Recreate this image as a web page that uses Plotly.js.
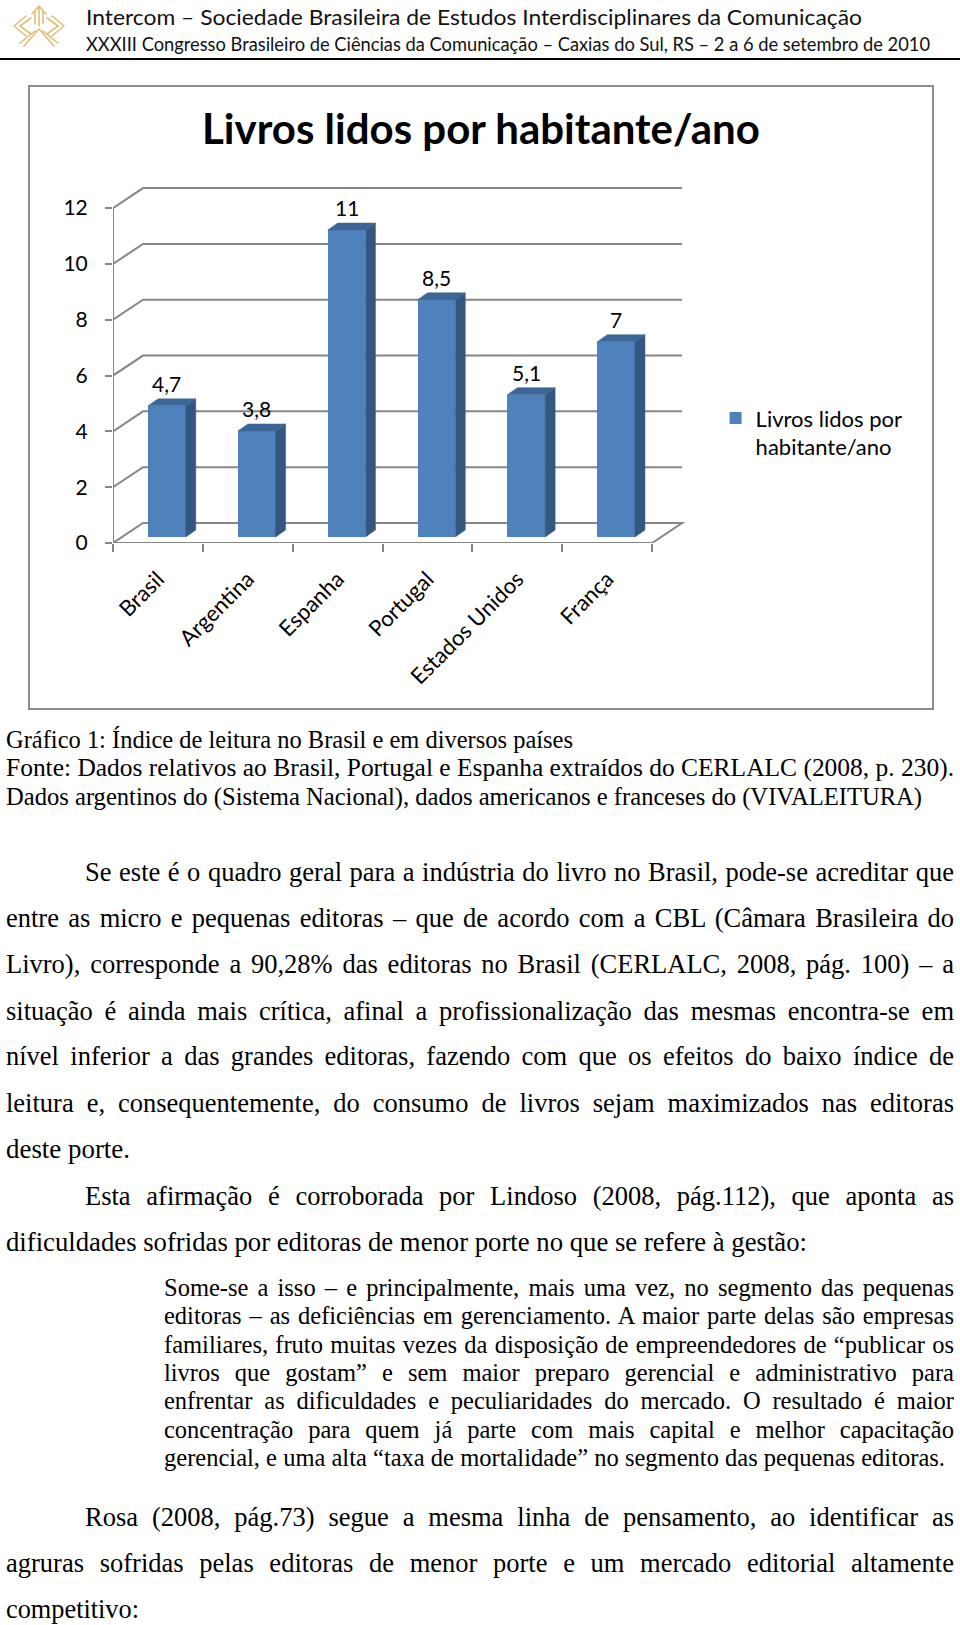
<!DOCTYPE html>
<html><head><meta charset="utf-8">
<script src="https://cdn.plot.ly/plotly-3.0.1.min.js"></script>
<style>
html,body{margin:0;padding:0;background:#fff;}
body{width:960px;height:1625px;position:relative;overflow:hidden;}
.ln{position:absolute;white-space:pre;line-height:1;font-family:"Liberation Serif","Times New Roman",serif;color:#000;transform-origin:0 0;}
.hd{position:absolute;white-space:pre;line-height:1;font-family:Lato,"Open Sans",sans-serif;color:#111;transform-origin:0 0;}
#rule{position:absolute;left:0;top:58px;width:960px;height:2px;background:#000;}
#chart{position:absolute;left:28px;top:85px;width:902px;height:621px;border:2px solid #8c8c8c;}
#logo{position:absolute;left:6px;top:2px;}
</style></head><body>
<svg id="logo" width="70" height="50" viewBox="0 0 70 50">
  <g fill="none" stroke="#E3BD78" stroke-width="1.6" stroke-linejoin="round" stroke-linecap="round">
    <path d="M33,6 L33,24 M29,9 L29,22 M37,9 L37,22 M26,12 L33,4 L40,12"/>
    <path d="M20,14 L8,24 L20,34 M25,16 L14,24 L25,32"/>
    <path d="M46,14 L58,24 L46,34 M41,16 L52,24 L41,32"/>
    <path d="M33,27 L18,44 M33,27 L48,44 M29,29 L14,41 M37,29 L52,41"/>
  </g>
</svg>
<div id="rule"></div>
<div id="chart"></div>
<script>
// ---------------- chart data ----------------
const categories = ['Brasil', 'Argentina', 'Espanha', 'Portugal', 'Estados Unidos', 'França'];
const values = [4.7, 3.8, 11, 8.5, 5.1, 7];
const valueLabels = ['4,7', '3,8', '11', '8,5', '5,1', '7'];
const yTicks = [0, 2, 4, 6, 8, 10, 12];
const seriesName = 'Livros lidos por<br>habitante/ano';
const chartTitle = 'Livros lidos por habitante/ano';

// ---------------- 3D look (styles, data units) ----------------
const BAR_W = 0.42, BAR_SHIFT = 0.1, BASE = 0.215, BD_X = 0.111, BD_Y = 0.25;
const WALL_X = 0.334, WALL_Y = 0.717;
const GRID = '#868686';
const FONT = 'Lato, "Open Sans", sans-serif';

const idx = categories.map((c, i) => i);
const xMin = -0.5, xMax = categories.length - 0.5;
const boundaries = idx.map(i => i - 0.5).concat([xMax]);
const yTop = yTicks[yTicks.length - 1];

const shapes = [];
// floor
shapes.push({type: 'path', layer: 'below', xref: 'x', yref: 'y',
  path: `M${xMin},0 L${xMax},0 L${xMax + WALL_X},${WALL_Y} L${xMin + WALL_X},${WALL_Y} Z`,
  fillcolor: '#ffffff', line: {color: GRID, width: 2}});
// wall gridlines
yTicks.forEach(v => {
  if (v === 0) return;
  shapes.push({type: 'path', layer: 'below', xref: 'x', yref: 'y',
    path: `M${xMin},${v} L${xMin + WALL_X},${v + WALL_Y} L${xMax + WALL_X},${v + WALL_Y}`,
    line: {color: GRID, width: 2}});
});
// front value axis line
shapes.push({type: 'line', layer: 'below', xref: 'x', yref: 'y', x0: xMin, x1: xMin, y0: 0, y1: yTop,
  line: {color: GRID, width: 2}});

const traces = [];
traces.push({type: 'bar', x: idx, y: values, base: BASE, width: BAR_W, offset: BAR_SHIFT - BAR_W / 2,
  marker: {color: '#4F81BD', line: {width: 0}}, name: seriesName, hoverinfo: 'skip', showlegend: true});
values.forEach((v, i) => {
  const xl = i + BAR_SHIFT - BAR_W / 2, xr = xl + BAR_W, b = BASE, t = v + BASE;
  traces.push({type: 'scatter', mode: 'lines', fill: 'toself', fillcolor: '#34577F',
    line: {color: '#34577F', width: 0.5}, showlegend: false, hoverinfo: 'skip',
    x: [xr, xr + BD_X, xr + BD_X, xr, xr], y: [b, b + BD_Y, t + BD_Y, t, b]});
  traces.push({type: 'scatter', mode: 'lines', fill: 'toself', fillcolor: '#3D6697',
    line: {color: '#3D6697', width: 0.5}, showlegend: false, hoverinfo: 'skip',
    x: [xl, xr, xr + BD_X, xl + BD_X, xl], y: [t, t, t + BD_Y, t + BD_Y, t]});
});

const annotations = values.map((v, i) => ({
  xref: 'x', yref: 'y', x: i + BAR_SHIFT, y: v + BASE, text: valueLabels[i],
  showarrow: false, yanchor: 'bottom', yshift: 8, font: {family: FONT, size: 21, color: '#000'}
}));

const layout = {
  width: 902, height: 621,
  margin: {l: 83, t: 96, r: 244, b: 165, pad: 0},
  paper_bgcolor: '#fff', plot_bgcolor: 'rgba(0,0,0,0)',
  title: {text: chartTitle, font: {family: FONT, size: 42, color: '#000', weight: 'bold'},
    x: 0.5, xref: 'container', xanchor: 'center', y: 1 - 42 / 621, yref: 'container', yanchor: 'middle'},
  xaxis: {range: [xMin, 5.9], tickmode: 'array', tickvals: idx, ticktext: categories, ticks: '',
    tickangle: -45, tickfont: {family: FONT, size: 22, color: '#000'}, showgrid: false, zeroline: false,
    showline: false, ticklabelstandoff: 18, fixedrange: true,
    minor: {tickmode: 'array', tickvals: boundaries, ticks: 'outside', ticklen: 8, tickwidth: 2, tickcolor: GRID, showgrid: false}},
  yaxis: {range: [0, 12.9], tickmode: 'array', tickvals: yTicks, ticktext: yTicks.map(String), ticks: 'outside',
    ticklen: 7, tickwidth: 2, tickcolor: GRID, showgrid: false, zeroline: false, showline: false,
    tickfont: {family: FONT, size: 21, color: '#000'}, ticklabelstandoff: 13, fixedrange: true},
  legend: {x: 1.048, xanchor: 'left', y: 0.405, yanchor: 'top', valign: 'top', itemwidth: 30,
    font: {family: FONT, size: 22, color: '#000'}, bgcolor: 'rgba(0,0,0,0)'},
  showlegend: true,
  shapes: shapes, annotations: annotations, bargap: 0
};
Plotly.newPlot('chart', traces, layout, {staticPlot: true, displayModeBar: false});

// ---------------- document text ----------------
const header = [
  {t: 'Intercom – Sociedade Brasileira de Estudos Interdisciplinares da Comunicação', x: 86, b: 26, r: 862, f: 22},
  {t: 'XXXIII Congresso Brasileiro de Ciências da Comunicação – Caxias do Sul, RS – 2 a 6 de setembro de 2010', x: 86, b: 51, r: 930, f: 18.5}
];
header.forEach(L => {
  const d = document.createElement('div'); d.className = 'hd'; d.textContent = L.t;
  d.style.fontSize = L.f + 'px'; d.style.left = L.x + 'px'; d.style.top = (L.b - 0.887 * L.f) + 'px';
  document.body.appendChild(d);
  const w = d.getBoundingClientRect().width;
  d.style.transform = 'scaleX(' + ((L.r - L.x) / w) + ')';
});

const CAP = 24.5, BODY = 26.5, QUOTE = 24.5;
const lines = [
  {t: 'Gráfico 1: Índice de leitura no Brasil e em diversos países', x: 6, c: 740, r: 573, f: CAP},
  {t: 'Fonte: Dados relativos ao Brasil, Portugal e Espanha extraídos do CERLALC (2008, p. 230).', x: 6, c: 768, r: 954, f: CAP},
  {t: 'Dados argentinos do (Sistema Nacional), dados americanos e franceses do (VIVALEITURA)', x: 6, c: 797, r: 922, f: CAP},
  {t: 'Se este é o quadro geral para a indústria do livro no Brasil, pode-se acreditar que', x: 85, c: 873, r: 954, f: BODY, j: 1},
  {t: 'entre as micro e pequenas editoras – que de acordo com a CBL (Câmara Brasileira do', x: 6, c: 919, r: 954, f: BODY, j: 1},
  {t: 'Livro), corresponde a 90,28% das editoras no Brasil (CERLALC, 2008, pág. 100) – a', x: 6, c: 965, r: 954, f: BODY, j: 1},
  {t: 'situação é ainda mais crítica, afinal a profissionalização das mesmas encontra-se em', x: 6, c: 1012, r: 954, f: BODY, j: 1},
  {t: 'nível inferior a das grandes editoras, fazendo com que os efeitos do baixo índice de', x: 6, c: 1057, r: 954, f: BODY, j: 1},
  {t: 'leitura e, consequentemente, do consumo de livros sejam maximizados nas editoras', x: 6, c: 1104, r: 954, f: BODY, j: 1},
  {t: 'deste porte.', x: 6, c: 1150, r: 130, f: BODY},
  {t: 'Esta afirmação é corroborada por Lindoso (2008, pág.112), que aponta as', x: 85, c: 1197, r: 954, f: BODY, j: 1},
  {t: 'dificuldades sofridas por editoras de menor porte no que se refere à gestão:', x: 6, c: 1243, r: 807, f: BODY},
  {t: 'Some-se a isso – e principalmente, mais uma vez, no segmento das pequenas', x: 164, c: 1288, r: 954, f: QUOTE, j: 1},
  {t: 'editoras – as deficiências em gerenciamento. A maior parte delas são empresas', x: 164, c: 1316, r: 954, f: QUOTE, j: 1},
  {t: 'familiares, fruto muitas vezes da disposição de empreendedores de “publicar os', x: 164, c: 1345, r: 954, f: QUOTE, j: 1},
  {t: 'livros que gostam” e sem maior preparo gerencial e administrativo para', x: 164, c: 1373, r: 954, f: QUOTE, j: 1},
  {t: 'enfrentar as dificuldades e peculiaridades do mercado. O resultado é maior', x: 164, c: 1401, r: 954, f: QUOTE, j: 1},
  {t: 'concentração para quem já parte com mais capital e melhor capacitação', x: 164, c: 1430, r: 954, f: QUOTE, j: 1},
  {t: 'gerencial, e uma alta “taxa de mortalidade” no segmento das pequenas editoras.', x: 164, c: 1458, r: 945, f: QUOTE},
  {t: 'Rosa (2008, pág.73) segue a mesma linha de pensamento, ao identificar as', x: 85, c: 1518, r: 954, f: BODY, j: 1},
  {t: 'agruras sofridas pelas editoras de menor porte e um mercado editorial altamente', x: 6, c: 1564, r: 954, f: BODY, j: 1},
  {t: 'competitivo:', x: 6, c: 1610, r: 139, f: BODY}
];
lines.forEach(L => {
  const d = document.createElement('div'); d.className = 'ln'; d.textContent = L.t;
  d.style.fontSize = L.f + 'px'; d.style.left = L.x + 'px'; d.style.top = (L.c - 0.59 * L.f + 2) + 'px';
  document.body.appendChild(d);
  const w = d.getBoundingClientRect().width, T = L.r - L.x;
  if (L.j) {
    const n = (L.t.match(/ /g) || []).length;
    const ws = (T - w) / n;
    if (ws < -2) d.style.transform = 'scaleX(' + (T / w) + ')';
    else d.style.wordSpacing = ws + 'px';
  } else {
    let s = T / w; s = Math.max(0.9, Math.min(1.1, s));
    d.style.transform = 'scaleX(' + s + ')';
  }
});
</script>
</body></html>
